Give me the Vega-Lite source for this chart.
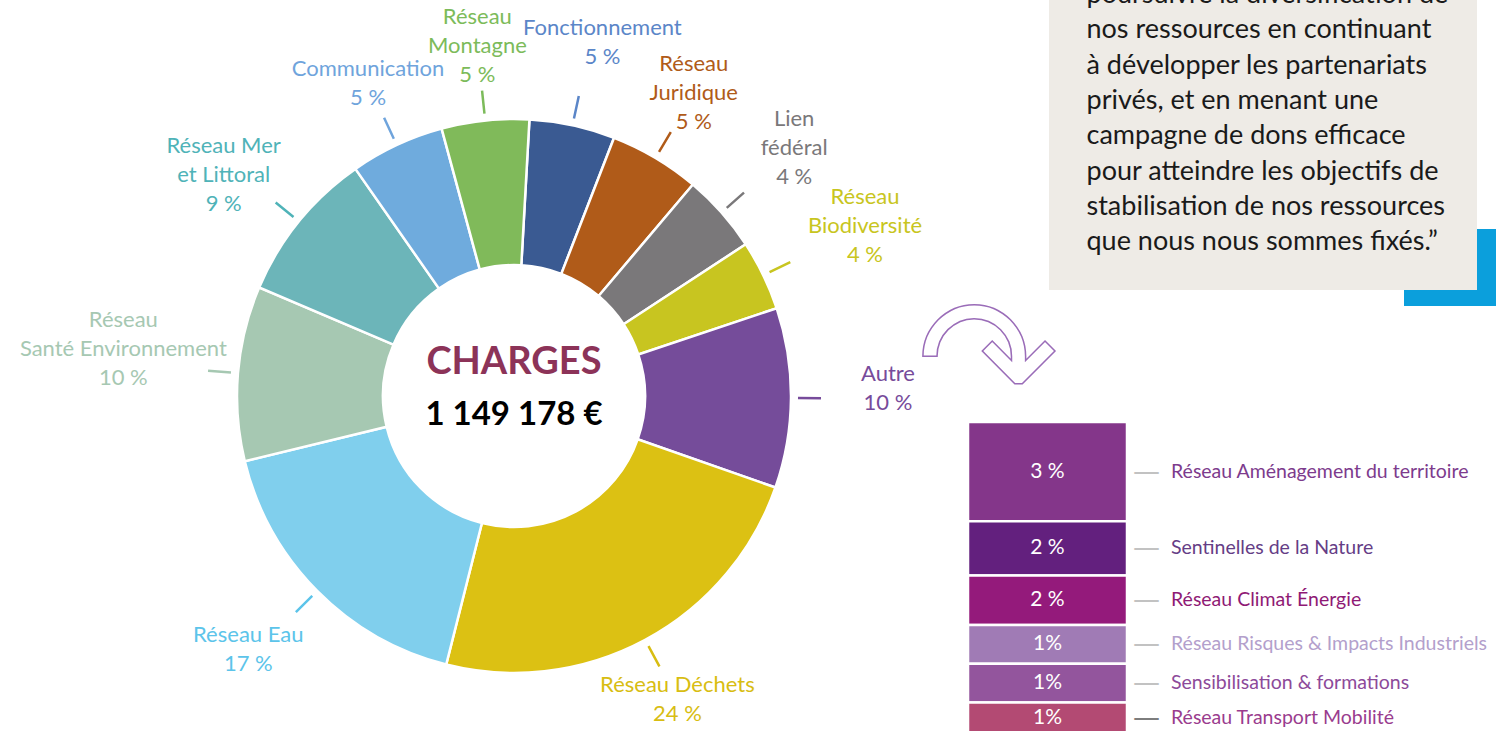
{
  "$schema": "https://vega.github.io/schema/vega-lite/v6.json",
  "background": "white",
  "padding": {"top": -49, "left": 0, "right": 0, "bottom": 0},
  "spacing": 0,
  "bounds": "flush",
  "config": {"view": {"stroke": null}},
  "hconcat": [
    {
      "width": 968,
      "height": 792,
      "data": {
        "values": [
          {"i": 1, "cat": "Fonctionnement", "v": 5.0, "label": "Fonctionnement\n5 %"},
          {"i": 2, "cat": "Réseau Juridique", "v": 5.3, "label": "Réseau\nJuridique\n5 %"},
          {"i": 3, "cat": "Lien fédéral", "v": 4.6, "label": "Lien\nfédéral\n4 %"},
          {"i": 4, "cat": "Réseau Biodiversité", "v": 4.1, "label": "Réseau\nBiodiversité\n4 %"},
          {"i": 5, "cat": "Autre", "v": 10.5, "label": "Autre\n10 %"},
          {"i": 6, "cat": "Réseau Déchets", "v": 23.6, "label": "Réseau Déchets\n24 %"},
          {"i": 7, "cat": "Réseau Eau", "v": 17.3, "label": "Réseau Eau\n17 %"},
          {"i": 8, "cat": "Réseau Santé Environnement", "v": 10.2, "label": "Réseau\nSanté Environnement\n10 %"},
          {"i": 9, "cat": "Réseau Mer et Littoral", "v": 8.9, "label": "Réseau Mer\net Littoral\n9 %"},
          {"i": 10, "cat": "Communication", "v": 5.5, "label": "Communication\n5 %"},
          {"i": 11, "cat": "Réseau Montagne", "v": 5.1, "label": "Réseau\nMontagne\n5 %"}
        ]
      },
      "layer": [
        {
          "mark": {"type": "arc", "outerRadius": 277, "innerRadius": 131, "stroke": "white", "strokeWidth": 2.5, "xOffset": 30},
          "encoding": {
            "theta": {"field": "v", "type": "quantitative", "stack": true, "scale": {"range": [0.0558, 6.339]}},
            "order": {"field": "i", "type": "quantitative"},
            "color": {"field": "cat", "type": "nominal", "legend": null,
              "scale": {"domain": ["Fonctionnement","Réseau Juridique","Lien fédéral","Réseau Biodiversité","Autre","Réseau Déchets","Réseau Eau","Réseau Santé Environnement","Réseau Mer et Littoral","Communication","Réseau Montagne"],
                        "range": ["#3a5a92","#b05b19","#7a787a","#c8c520","#754c9a","#dcc113","#80cfed","#a6c8b2","#6cb5b9","#6fabdd","#80ba5a"]}}
          }
        },
        {
          "mark": {"type": "arc", "outerRadius": 307, "innerRadius": 284, "padAngle": 3.1, "filled": false, "strokeWidth": 2.5, "xOffset": 30},
          "encoding": {
            "theta": {"field": "v", "type": "quantitative", "stack": true},
            "order": {"field": "i", "type": "quantitative"},
            "color": {"field": "cat", "type": "nominal", "legend": null,
              "scale": {"domain": ["Fonctionnement","Réseau Juridique","Lien fédéral","Réseau Biodiversité","Autre","Réseau Déchets","Réseau Eau","Réseau Santé Environnement","Réseau Mer et Littoral","Communication","Réseau Montagne"],
                        "range": ["#5b86c8","#b05b19","#7a787a","#c8c520","#774b9b","#d8bd12","#5cc4ea","#a6c8b2","#4fb3b8","#6fa4dc","#7cbb5a"]}}
          }
        },
        {
          "mark": {"type": "text", "radius": 345, "xOffset": 30, "dy": -14.5, "font": "Lato", "fontSize": 22, "lineHeight": 29, "lineBreak": "\n"},
          "encoding": {
            "theta": {"field": "v", "type": "quantitative", "stack": true},
            "order": {"field": "i", "type": "quantitative"},
            "color": {"field": "cat", "type": "nominal", "legend": null,
              "scale": {"domain": ["Fonctionnement","Réseau Juridique","Lien fédéral","Réseau Biodiversité","Autre","Réseau Déchets","Réseau Eau","Réseau Santé Environnement","Réseau Mer et Littoral","Communication","Réseau Montagne"],
                        "range": ["#5b86c8","#b05b19","#7a787a","#c8c520","#774b9b","#d8bd12","#5cc4ea","#a6c8b2","#4fb3b8","#6fa4dc","#7cbb5a"]}},
            "text": {"condition": {"test": "indexof(['Communication','Réseau Déchets'], datum.cat) >= 0", "field": "label", "type": "nominal"}, "value": ""}
          }
        },
        {
          "mark": {"type": "text", "radius": 362, "xOffset": 30, "dx": 12, "dy": -14.5, "font": "Lato", "fontSize": 22, "lineHeight": 29, "lineBreak": "\n"},
          "encoding": {
            "theta": {"field": "v", "type": "quantitative", "stack": true},
            "order": {"field": "i", "type": "quantitative"},
            "color": {"field": "cat", "type": "nominal", "legend": null,
              "scale": {"domain": ["Fonctionnement","Réseau Juridique","Lien fédéral","Réseau Biodiversité","Autre","Réseau Déchets","Réseau Eau","Réseau Santé Environnement","Réseau Mer et Littoral","Communication","Réseau Montagne"],
                        "range": ["#5b86c8","#b05b19","#7a787a","#c8c520","#774b9b","#d8bd12","#5cc4ea","#a6c8b2","#4fb3b8","#6fa4dc","#7cbb5a"]}},
            "text": {"condition": {"test": "datum.cat == 'Fonctionnement'", "field": "label", "type": "nominal"}, "value": ""}
          }
        },
        {
          "mark": {"type": "text", "radius": 352, "xOffset": 30, "dy": -29, "font": "Lato", "fontSize": 22, "lineHeight": 29, "lineBreak": "\n"},
          "encoding": {
            "theta": {"field": "v", "type": "quantitative", "stack": true},
            "order": {"field": "i", "type": "quantitative"},
            "color": {"field": "cat", "type": "nominal", "legend": null,
              "scale": {"domain": ["Fonctionnement","Réseau Juridique","Lien fédéral","Réseau Biodiversité","Autre","Réseau Déchets","Réseau Eau","Réseau Santé Environnement","Réseau Mer et Littoral","Communication","Réseau Montagne"],
                        "range": ["#5b86c8","#b05b19","#7a787a","#c8c520","#774b9b","#d8bd12","#5cc4ea","#a6c8b2","#4fb3b8","#6fa4dc","#7cbb5a"]}},
            "text": {"condition": {"test": "indexof(['Réseau Juridique','Réseau Montagne'], datum.cat) >= 0", "field": "label", "type": "nominal"}, "value": ""}
          }
        },
        {
          "mark": {"type": "text", "radius": 374, "xOffset": 30, "dy": -24.5, "font": "Lato", "fontSize": 22, "lineHeight": 29, "lineBreak": "\n"},
          "encoding": {
            "theta": {"field": "v", "type": "quantitative", "stack": true},
            "order": {"field": "i", "type": "quantitative"},
            "color": {"field": "cat", "type": "nominal", "legend": null,
              "scale": {"domain": ["Fonctionnement","Réseau Juridique","Lien fédéral","Réseau Biodiversité","Autre","Réseau Déchets","Réseau Eau","Réseau Santé Environnement","Réseau Mer et Littoral","Communication","Réseau Montagne"],
                        "range": ["#5b86c8","#b05b19","#7a787a","#c8c520","#774b9b","#d8bd12","#5cc4ea","#a6c8b2","#4fb3b8","#6fa4dc","#7cbb5a"]}},
            "text": {"condition": {"test": "indexof(['Autre','Réseau Eau'], datum.cat) >= 0", "field": "label", "type": "nominal"}, "value": ""}
          }
        },
        {
          "mark": {"type": "text", "radius": 374, "xOffset": 30, "dy": -29, "font": "Lato", "fontSize": 22, "lineHeight": 29, "lineBreak": "\n"},
          "encoding": {
            "theta": {"field": "v", "type": "quantitative", "stack": true},
            "order": {"field": "i", "type": "quantitative"},
            "color": {"field": "cat", "type": "nominal", "legend": null,
              "scale": {"domain": ["Fonctionnement","Réseau Juridique","Lien fédéral","Réseau Biodiversité","Autre","Réseau Déchets","Réseau Eau","Réseau Santé Environnement","Réseau Mer et Littoral","Communication","Réseau Montagne"],
                        "range": ["#5b86c8","#b05b19","#7a787a","#c8c520","#774b9b","#d8bd12","#5cc4ea","#a6c8b2","#4fb3b8","#6fa4dc","#7cbb5a"]}},
            "text": {"condition": {"test": "datum.cat == 'Lien fédéral'", "field": "label", "type": "nominal"}, "value": ""}
          }
        },
        {
          "mark": {"type": "text", "radius": 374, "xOffset": 30, "dy": -14.5, "font": "Lato", "fontSize": 22, "lineHeight": 29, "lineBreak": "\n"},
          "encoding": {
            "theta": {"field": "v", "type": "quantitative", "stack": true},
            "order": {"field": "i", "type": "quantitative"},
            "color": {"field": "cat", "type": "nominal", "legend": null,
              "scale": {"domain": ["Fonctionnement","Réseau Juridique","Lien fédéral","Réseau Biodiversité","Autre","Réseau Déchets","Réseau Eau","Réseau Santé Environnement","Réseau Mer et Littoral","Communication","Réseau Montagne"],
                        "range": ["#5b86c8","#b05b19","#7a787a","#c8c520","#774b9b","#d8bd12","#5cc4ea","#a6c8b2","#4fb3b8","#6fa4dc","#7cbb5a"]}},
            "text": {"condition": {"test": "datum.cat == 'Réseau Mer et Littoral'", "field": "label", "type": "nominal"}, "value": ""}
          }
        },
        {
          "mark": {"type": "text", "radius": 390, "xOffset": 30, "dy": -29, "font": "Lato", "fontSize": 22, "lineHeight": 29, "lineBreak": "\n"},
          "encoding": {
            "theta": {"field": "v", "type": "quantitative", "stack": true},
            "order": {"field": "i", "type": "quantitative"},
            "color": {"field": "cat", "type": "nominal", "legend": null,
              "scale": {"domain": ["Fonctionnement","Réseau Juridique","Lien fédéral","Réseau Biodiversité","Autre","Réseau Déchets","Réseau Eau","Réseau Santé Environnement","Réseau Mer et Littoral","Communication","Réseau Montagne"],
                        "range": ["#5b86c8","#b05b19","#7a787a","#c8c520","#774b9b","#d8bd12","#5cc4ea","#a6c8b2","#4fb3b8","#6fa4dc","#7cbb5a"]}},
            "text": {"condition": {"test": "datum.cat == 'Réseau Biodiversité'", "field": "label", "type": "nominal"}, "value": ""}
          }
        },
        {
          "mark": {"type": "text", "radius": 392, "xOffset": 30, "dy": -43.5, "font": "Lato", "fontSize": 22, "lineHeight": 29, "lineBreak": "\n"},
          "encoding": {
            "theta": {"field": "v", "type": "quantitative", "stack": true},
            "order": {"field": "i", "type": "quantitative"},
            "color": {"field": "cat", "type": "nominal", "legend": null,
              "scale": {"domain": ["Fonctionnement","Réseau Juridique","Lien fédéral","Réseau Biodiversité","Autre","Réseau Déchets","Réseau Eau","Réseau Santé Environnement","Réseau Mer et Littoral","Communication","Réseau Montagne"],
                        "range": ["#5b86c8","#b05b19","#7a787a","#c8c520","#774b9b","#d8bd12","#5cc4ea","#a6c8b2","#4fb3b8","#6fa4dc","#7cbb5a"]}},
            "text": {"condition": {"test": "datum.cat == 'Réseau Santé Environnement'", "field": "label", "type": "nominal"}, "value": ""}
          }
        },
        {
          "data": {"values": [{"t": "CHARGES"}]},
          "mark": {"type": "text", "font": "Lato", "fontWeight": "bold", "fontSize": 38, "color": "#8c3358", "xOffset": 30, "dy": -33},
          "encoding": {"text": {"field": "t"}}
        },
        {
          "data": {"values": [{"t": "1 149 178 €"}]},
          "mark": {"type": "text", "font": "Lato", "fontWeight": "bold", "fontSize": 33, "color": "#000000", "xOffset": 30, "dy": 19},
          "encoding": {"text": {"field": "t"}}
        },
        {
          "data": {"values": [{"a": "↷"}]},
          "mark": {"type": "text", "font": "DejaVu Sans", "fontSize": 170, "fill": "white", "stroke": "#9a6cb8", "strokeWidth": 1.5, "xOffset": 503.5, "yOffset": -29},
          "encoding": {"text": {"field": "a"}}
        }
      ],
      "resolve": {"scale": {"color": "independent"}}
    },
    {
      "spacing": 0,
      "bounds": "full",
      "vconcat": [
        {
          "spacing": 0,
          "bounds": "full",
          "hconcat": [
            {"width": 81, "height": 420, "data": {"values": [{}]}, "mark": {"type": "text", "text": ""}},
            {
              "spacing": 0,
              "bounds": "full",
              "vconcat": [
                {
                  "spacing": 0,
                  "bounds": "full",
                  "hconcat": [
                    {
                      "width": 428,
                      "height": 290,
                      "view": {"fill": "#eeebe6", "stroke": null},
                      "data": {"values": [{"q": "poursuivre la diversification de\nnos ressources en continuant\nà développer les partenariats\nprivés, et en menant une\ncampagne de dons efficace\npour atteindre les objectifs de\nstabilisation de nos ressources\nque nous nous sommes fixés.”"}]},
                      "mark": {"type": "text", "font": "Lato", "fontSize": 27, "lineHeight": 35.3, "lineBreak": "\n", "align": "left", "baseline": "alphabetic", "dx": -176.5, "dy": -142, "color": "#1a1a1a", "clip": true},
                      "encoding": {"text": {"field": "q"}}
                    },
                    {
                      "spacing": 0,
                      "bounds": "full",
                      "vconcat": [
                        {"width": 19, "height": 229, "data": {"values": [{}]}, "mark": {"type": "text", "text": ""}},
                        {"width": 19, "height": 61, "view": {"fill": "#0b9fdc", "stroke": null}, "data": {"values": [{}]}, "mark": {"type": "text", "text": ""}}
                      ]
                    }
                  ]
                },
                {
                  "spacing": 0,
                  "bounds": "full",
                  "hconcat": [
                    {"width": 355, "height": 16, "data": {"values": [{}]}, "mark": {"type": "text", "text": ""}},
                    {"width": 92, "height": 16, "view": {"fill": "#0b9fdc", "stroke": null}, "data": {"values": [{}]}, "mark": {"type": "text", "text": ""}}
                  ]
                }
              ]
            }
          ]
        },
        {
          "width": 159,
          "height": 372,
          "data": {
            "values": [
              {"i": 1, "g": "Autre", "cat": "Réseau Aménagement du territoire", "v": 3.2, "pct": "3 %"},
              {"i": 2, "g": "Autre", "cat": "Sentinelles de la Nature", "v": 1.75, "pct": "2 %"},
              {"i": 3, "g": "Autre", "cat": "Réseau Climat Énergie", "v": 1.6, "pct": "2 %"},
              {"i": 4, "g": "Autre", "cat": "Réseau Risques & Impacts Industriels", "v": 1.25, "pct": "1%"},
              {"i": 5, "g": "Autre", "cat": "Sensibilisation & formations", "v": 1.25, "pct": "1%"},
              {"i": 6, "g": "Autre", "cat": "Réseau Transport Mobilité", "v": 1.0, "pct": "1%"}
            ]
          },
          "layer": [
            {
              "mark": {"type": "bar", "stroke": "white", "strokeWidth": 2.5},
              "encoding": {
                "x": {"field": "g", "type": "nominal", "axis": null, "scale": {"paddingInner": 0, "paddingOuter": 0}},
                "y": {"field": "v", "type": "quantitative", "stack": "zero", "scale": {"domain": [0, 11.92], "reverse": true}, "axis": null},
                "order": {"field": "i", "type": "quantitative"},
                "color": {"field": "cat", "type": "nominal", "legend": null,
                  "scale": {"domain": ["Réseau Aménagement du territoire","Sentinelles de la Nature","Réseau Climat Énergie","Réseau Risques & Impacts Industriels","Sensibilisation & formations","Réseau Transport Mobilité"],
                            "range": ["#84368a","#63207e","#941a7b","#a07bb5","#93559d","#b34a73"]}}
              }
            },
            {
              "mark": {"type": "text", "font": "Lato", "fontSize": 21, "color": "white"},
              "encoding": {
                "y": {"field": "v", "type": "quantitative", "stack": "zero", "bandPosition": 0.5},
                "order": {"field": "i", "type": "quantitative"},
                "text": {"field": "pct"}
              }
            },
            {
              "mark": {"type": "text", "font": "DejaVu Sans", "fontSize": 27, "align": "left", "dx": 85.5},
              "encoding": {
                "y": {"field": "v", "type": "quantitative", "stack": "zero", "bandPosition": 0.5},
                "order": {"field": "i", "type": "quantitative"},
                "text": {"value": "—"},
                "color": {"condition": {"test": "datum.cat == 'Réseau Transport Mobilité'", "value": "#7d7d7d"}, "value": "#c2c2c2"}
              }
            },
            {
              "mark": {"type": "text", "font": "Lato", "fontSize": 19.5, "align": "left", "dx": 123.5},
              "encoding": {
                "y": {"field": "v", "type": "quantitative", "stack": "zero", "bandPosition": 0.5},
                "order": {"field": "i", "type": "quantitative"},
                "text": {"field": "cat"},
                "color": {"field": "cat", "type": "nominal", "legend": null,
                  "scale": {"domain": ["Réseau Aménagement du territoire","Sentinelles de la Nature","Réseau Climat Énergie","Réseau Risques & Impacts Industriels","Sensibilisation & formations","Réseau Transport Mobilité"],
                            "range": ["#7d3b8d","#653d86","#8f1a75","#b3a0cc","#8d4a9a","#9a3c8e"]}}
              }
            }
          ],
          "resolve": {"scale": {"color": "independent"}}
        }
      ]
    }
  ]
}
